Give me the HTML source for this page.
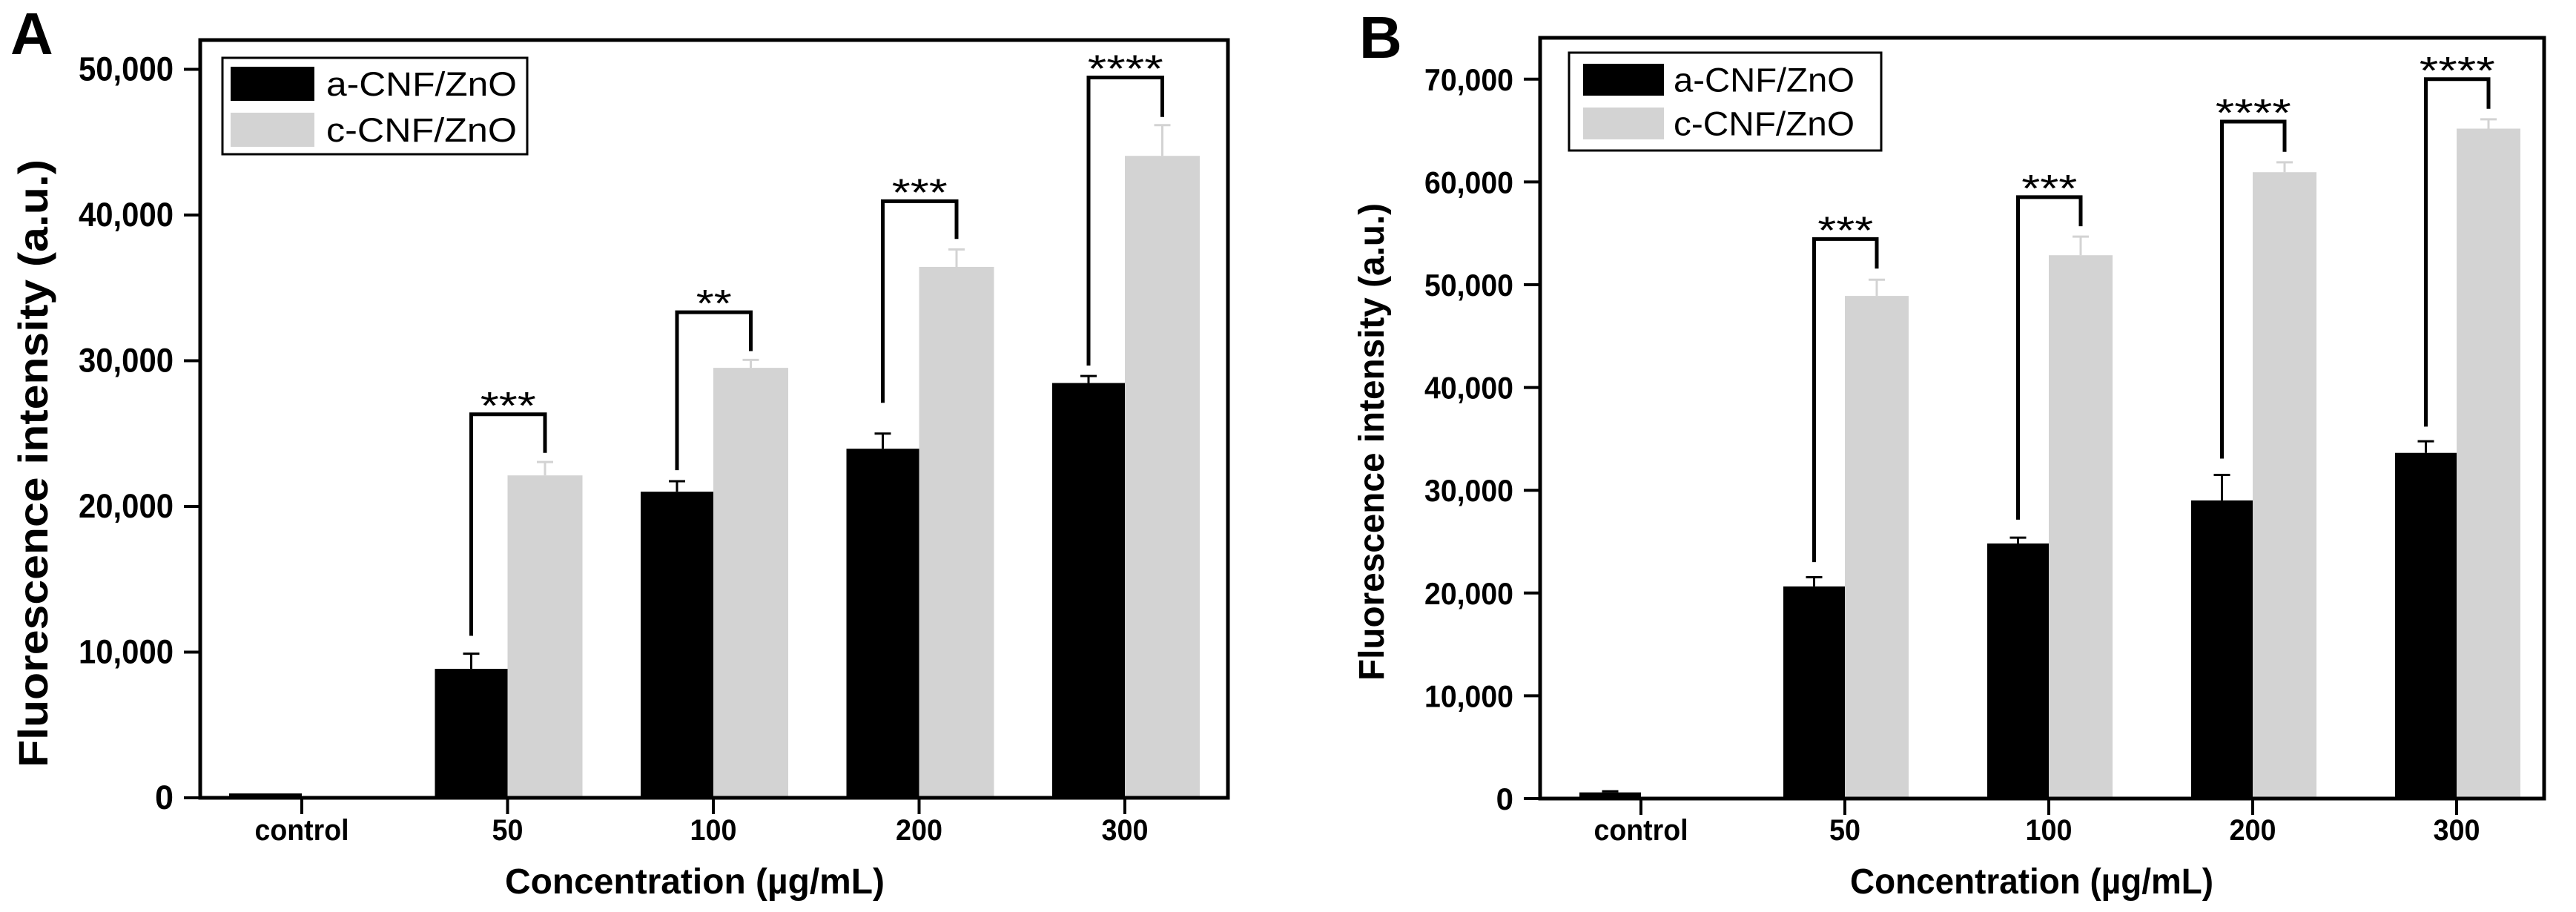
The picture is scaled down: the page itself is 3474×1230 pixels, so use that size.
<!DOCTYPE html>
<html><head><meta charset="utf-8"><style>
html,body{margin:0;padding:0;background:#fff;}
svg{display:block;font-family:"Liberation Sans",Arial,sans-serif;}
</style></head><body>
<svg id="fig" width="3474" height="1230" viewBox="0 0 3474 1230" xmlns="http://www.w3.org/2000/svg"></svg>
<script>
// ---- Panel A data ----
const categories = ["control","50","100","200","300"];
const aMeansA = [300, 8850, 21010, 23960, 28470];
const aErrA   = [0, 1040, 720, 1040, 480];
const cMeansA = [null, 22130, 29510, 36440, 44060];
const cErrA   = [null, 920, 550, 1200, 2110];
const sigLabelsA = ["", "***", "**", "***", "****"];
const bracketTopA   = [null, 26320, 33330, 40950, 49440];
const bracketLeftA  = [null, 11120, 22490, 27110, 29670];
const bracketRightA = [null, 23680, 30660, 38360, 46730];
const yTicksA = [0, 10000, 20000, 30000, 40000, 50000];
const yTickLabelsA = ["0","10,000","20,000","30,000","40,000","50,000"];
// ---- Panel B data ----
const aMeansB = [600, 20640, 24820, 29010, 33640];
const aErrB   = [100, 900, 570, 2480, 1130];
const cMeansB = [null, 48910, 52870, 60950, 65190];
const cErrB   = [null, 1580, 1810, 960, 910];
const sigLabelsB = ["", "***", "***", "****", "****"];
const bracketTopB   = [null, 54450, 58520, 65870, 70000];
const bracketLeftB  = [null, 23010, 27140, 33080, 36190];
const bracketRightB = [null, 51570, 55690, 62930, 67120];
const yTicksB = [0, 10000, 20000, 30000, 40000, 50000, 60000, 70000];
const yTickLabelsB = ["0","10,000","20,000","30,000","40,000","50,000","60,000","70,000"];
const legendLabels = ["a-CNF/ZnO","c-CNF/ZnO"];

const NS = "http://www.w3.org/2000/svg";
const svg = document.getElementById("fig");
function mk(tag, attrs, parent){
  const e = document.createElementNS(NS, tag);
  for (const k in attrs) e.setAttribute(k, attrs[k]);
  (parent||svg).appendChild(e);
  return e;
}
function txt(s, attrs, parent){ const e = mk("text", attrs, parent); e.textContent = s; return e; }

function panel(p){
  const g = mk("g", {});
  
  
  const y = v => p.y0 - v / 10000 * p.perTen;
  const x = i => p.x0 + i * p.step;
  const L = txt(p.letter, {x:p.letterX, y:p.letterY, "font-size":80, "font-weight":"bold"}, g);
  
  
  for (let i=0;i<categories.length;i++){
    const t = x(i);
    const b = mk("rect", {x:t-p.bw1, y:y(p.a[i]), width:p.bw1, height:p.y0-y(p.a[i]), fill:"#000"}, g);
    
    
    if (p.aE[i]>0){
      const cx = t - p.bw1/2;
      const e = mk("path", {d:`M${cx} ${y(p.a[i])} V${y(p.a[i]+p.aE[i])} M${cx-11} ${y(p.a[i]+p.aE[i])} H${cx+11}`, stroke:"#000", "stroke-width":3, fill:"none"}, g);
      
      
    }
    if (p.c[i]!=null){
      const c = mk("rect", {x:t, y:y(p.c[i]), width:p.bw2, height:p.y0-y(p.c[i]), fill:"#d3d3d3"}, g);
      
      
      const cx = t + p.bw2/2;
      const e = mk("path", {d:`M${cx} ${y(p.c[i])} V${y(p.c[i]+p.cE[i])} M${cx-11} ${y(p.c[i]+p.cE[i])} H${cx+11}`, stroke:"#d3d3d3", "stroke-width":3, fill:"none"}, g);
      
      
      const lx = t - p.bw1/2, rx = cx;
      const br = mk("path", {d:`M${lx} ${y(p.bL[i])} V${y(p.bT[i])} H${rx} V${y(p.bR[i])}`, stroke:"#000", "stroke-width":5, fill:"none"}, g);
      
      
      const n = p.sig[i].length;
      const s = txt(p.sig[i], {x:(lx+rx)/2, y:y(p.bT[i])+6, "font-size":52, "text-anchor":"middle", textLength:n*27-6, lengthAdjust:"spacingAndGlyphs"}, g);
      
      
    }
    const tk = mk("line", {x1:t, y1:p.y0, x2:t, y2:p.y0+22, stroke:"#000", "stroke-width":4}, g);
    
    
    const lw = categories[i]==="control"?127:(categories[i].length*21);
    const lb = txt(categories[i], {x:t, y:1133, "font-size":40, "font-weight":"bold", "text-anchor":"middle", textLength:lw, lengthAdjust:"spacingAndGlyphs"}, g);
    
    
  }
  const fr = mk("path", {d:`M${p.ax} ${p.y0} V${p.top} H${p.right} V${p.y0} Z`, stroke:"#000", "stroke-width":5, fill:"none"}, g);
  
  
  for (let k=0;k<p.ticks.length;k++){
    const yy = y(p.ticks[k]);
    const tl = mk("line", {x1:p.ax-22, y1:yy, x2:p.ax, y2:yy, stroke:"#000", "stroke-width":4}, g);
    
    
    const lab = p.tickLabels[k];
    const attrs = {x:p.ax-36, y:yy+15, "font-size":p.tickFont, "font-weight":"bold", "text-anchor":"end"};
    if (lab.length>1){ attrs.textLength = p.tickW; attrs.lengthAdjust="spacingAndGlyphs"; }
    const tt = txt(lab, attrs, g);
    
    
  }
  const yt = txt("Fluorescence intensity (a.u.)", {x:0, y:0, "font-size":p.ytFont, "font-weight":"bold", "text-anchor":"middle", textLength:p.ytLen, lengthAdjust:"spacingAndGlyphs", transform:`translate(${p.ytX},${p.ytY}) rotate(-90)`}, g);
  
  
  const xt = txt("Concentration (µg/mL)", {x:p.xtX, y:1205, "font-size":48, "text-anchor":"middle", textLength:p.xtLen, lengthAdjust:"spacingAndGlyphs", style:"font-weight:bold"}, g);
  
  
  const lg = mk("g", {}, g);
  
  
  mk("rect", {x:p.lg.x, y:p.lg.y, width:p.lg.w, height:p.lg.h, fill:"#fff", stroke:"#000", "stroke-width":3}, lg);
  const fills = ["#000","#d3d3d3"];
  for (let j=0;j<2;j++){
    const sw = mk("rect", {x:p.lg.sx, y:p.lg.sy[j], width:p.lg.sw, height:p.lg.sh, fill:fills[j]}, lg);
    
    
    const lt = txt(legendLabels[j], {x:p.lg.tx, y:p.lg.sy[j]+p.lg.sh/2+16, "font-size":45, textLength:p.lg.tw, lengthAdjust:"spacingAndGlyphs"}, lg);
    
    
  }
}

panel({name:"panel-a", letter:"A", letterX:14, letterY:73, x0:407, step:277.5, y0:1076, perTen:196.5,
  ax:270, top:54, right:1656, bw1:98, bw2:101,
  a:aMeansA, aE:aErrA, c:cMeansA, cE:cErrA, sig:sigLabelsA, bT:bracketTopA, bL:bracketLeftA, bR:bracketRightA,
  ticks:yTicksA, tickLabels:yTickLabelsA, tickFont:45, tickW:128,
  ytFont:56, ytLen:820, ytX:64, ytY:625, xtX:937, xtLen:512,
  lg:{x:300,y:78,w:411,h:130,sx:311,sy:[90,152],sw:113,sh:46,tx:440,tw:257}});
panel({name:"panel-b", letter:"B", letterX:1833, letterY:78, x0:2213, step:275, y0:1077, perTen:138.6,
  ax:2077, top:51, right:3431, bw1:83, bw2:86,
  a:aMeansB, aE:aErrB, c:cMeansB, cE:cErrB, sig:sigLabelsB, bT:bracketTopB, bL:bracketLeftB, bR:bracketRightB,
  ticks:yTicksB, tickLabels:yTickLabelsB, tickFont:42, tickW:120,
  ytFont:48, ytLen:644, ytX:1866, ytY:596, xtX:2740, xtLen:490,
  lg:{x:2116,y:71,w:421,h:132,sx:2135,sy:[86,145],sw:109,sh:43,tx:2257,tw:244}});
</script>
</body></html>
